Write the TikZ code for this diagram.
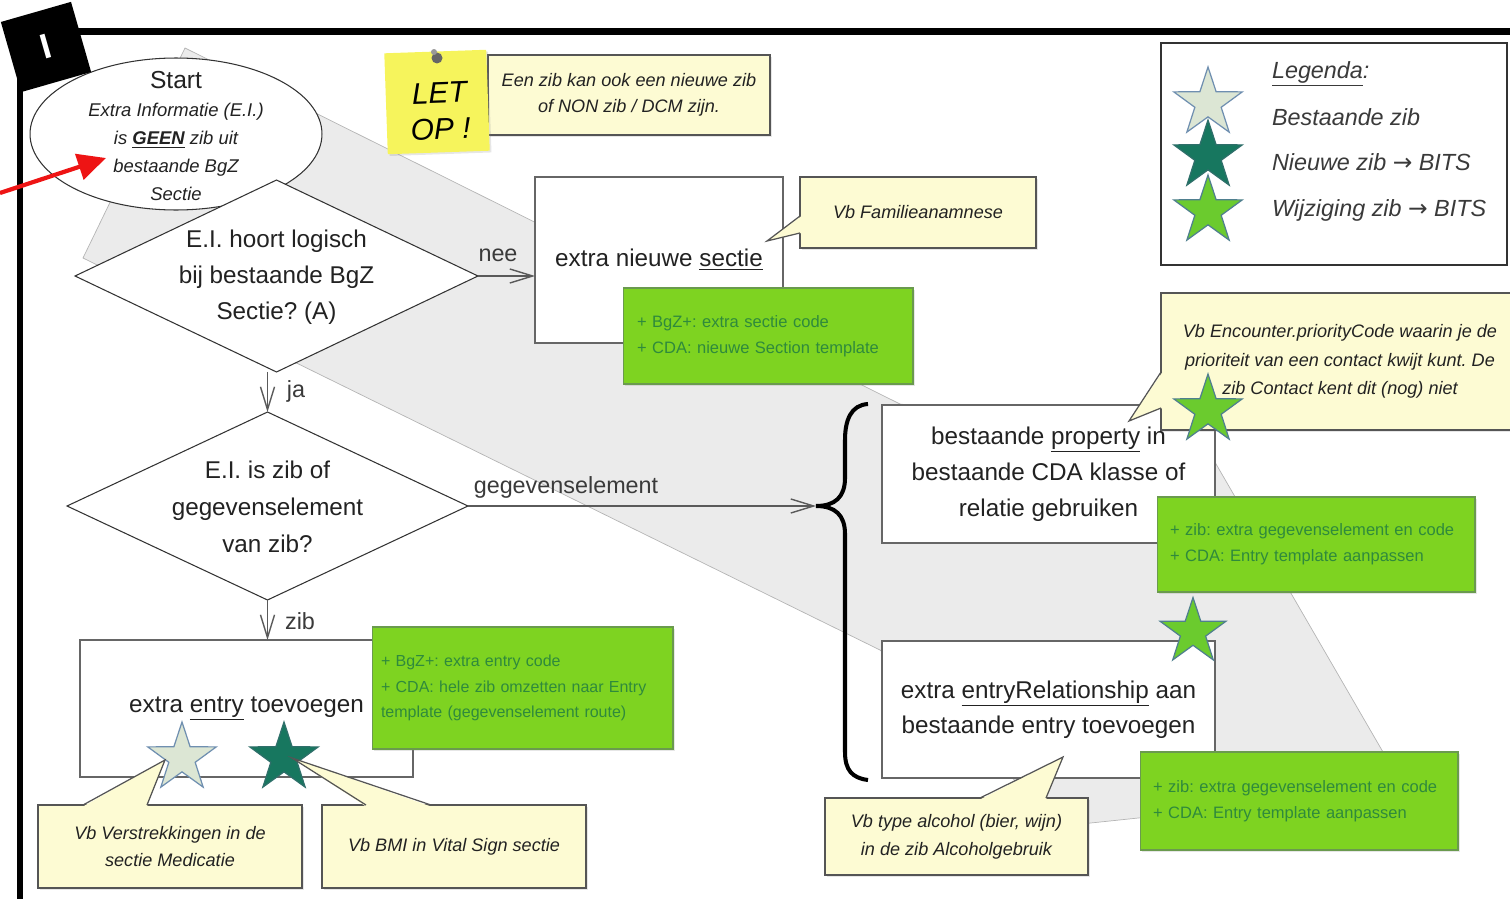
\documentclass[tikz,border=0pt]{standalone}
\usepackage{fontspec}
\setmainfont{Liberation Sans}
\newfontfamily\arrowfont{DejaVu Sans}
\usetikzlibrary{shapes.geometric,arrows.meta,shadows,calc}
\definecolor{band}{HTML}{EBEBEB}
\definecolor{bandline}{HTML}{B5B5B5}
\definecolor{limefill}{HTML}{7ED321}
\definecolor{limeline}{HTML}{6A9A4E}
\definecolor{limetext}{HTML}{2F8A3C}
\definecolor{note}{HTML}{FDFBD3}
\definecolor{noteline}{HTML}{555555}
\definecolor{sticky}{HTML}{F6F45C}
\definecolor{starlight}{HTML}{DCE6D4}
\definecolor{starlightline}{HTML}{6F8FB0}
\definecolor{stardark}{HTML}{17775F}
\definecolor{stardarkline}{HTML}{2F6F6A}
\definecolor{starlime}{HTML}{6BCB2E}
\definecolor{starlimeline}{HTML}{4F7F8F}
\definecolor{ink}{HTML}{222222}
\definecolor{boxline}{HTML}{666666}
\definecolor{diamline}{HTML}{333333}
\definecolor{connline}{HTML}{5A5A5A}
\definecolor{lbltext}{HTML}{3A3A3A}
\definecolor{redc}{HTML}{EE1414}
\frenchspacing
\hyphenpenalty=10000
\exhyphenpenalty=10000
\begin{document}
\begin{tikzpicture}[x=0.02cm, y=-0.02cm,
  every node/.style={inner sep=0pt, outer sep=0pt, text=ink},
  box/.style={draw=boxline, fill=white, line width=0.8pt, align=center, font=\fontsize{13.8}{20.4}\selectfont},
  greenbox/.style={draw=limeline, fill=limefill, line width=0.6pt, align=left, text=limetext,
    font=\fontsize{9.4}{14.6}\selectfont, drop shadow={opacity=0.2, shadow xshift=1.2pt, shadow yshift=-1.2pt}},
  callout/.style={draw=noteline, fill=note, line width=0.7pt, align=center,
    font=\itshape\fontsize{10.3}{15.4}\selectfont, drop shadow={opacity=0.2, shadow xshift=1.2pt, shadow yshift=-1.2pt}},
  decision/.style={diamond, draw=diamline, fill=white, line width=0.6pt, aspect=2.1},
  dtext/.style={align=center, font=\fontsize{13.8}{20.6}\selectfont},
  conn/.style={draw=connline, line width=0.7pt, -{Straight Barb[length=13pt,width=8pt,line width=0.8pt]}},
  lbl/.style={text=lbltext, font=\fontsize{13.3}{16}\selectfont},
  tailline/.style={draw=noteline, line width=0.7pt},
  starbase/.style={star, star points=5, star point ratio=2.6, minimum size=1.44cm, line width=0.7pt},
  starlightst/.style={starbase, fill=starlight, draw=starlightline},
  stardarkst/.style={starbase, fill=stardark, draw=stardarkline},
  starlimest/.style={starbase, fill=starlime, draw=starlimeline},
  legtxt/.style={anchor=base west, text=lbltext, font=\itshape\fontsize{13.3}{17}\selectfont},
  frameline/.style={draw=black, line width=4pt},
  redarrow/.style={draw=redc, line width=2.4pt, -{Triangle[length=16pt,width=15pt]}}
]
\useasboundingbox (0,0) rectangle (1510,899);

% grey background band
\filldraw[fill=band, draw=bandline, line width=0.4pt]
  (185,48) -- (900,404) -- (1205,445) -- (1405,790) -- (1062,826) -- (880,650) -- (83,258) -- cycle;

% start ellipse
\node[ellipse, draw=diamline, fill=white, line width=0.6pt, minimum width=5.84cm, minimum height=3.04cm] (start) at (176,134) {};
\node[align=center, font=\itshape\fontsize{10.5}{15.8}\selectfont] (starttext) at (176,136)
  {{\upshape\fontsize{14}{15.8}\selectfont Start}\\Extra Informatie (E.I.)\\is \underline{\textbf{GEEN}} zib uit\\bestaande BgZ\\Sectie};

% decisions
\node[decision, minimum width=8.06cm, minimum height=3.84cm] (d1) at (276.5,276) {};
\node[dtext] (d1text) at (276.5,277) {E.I. hoort logisch\\bij bestaande BgZ\\Sectie? (A)};
\node[decision, minimum width=8.02cm, minimum height=3.76cm] (d2) at (267.5,506) {};
\node[dtext, font=\fontsize{13.8}{21}\selectfont] (d2text) at (267.5,507) {E.I. is zib of\\gegevenselement\\van zib?};

% LET OP
\node[callout, minimum width=5.64cm, minimum height=1.6cm, font=\itshape\fontsize{10.3}{14.8}\selectfont] (letopnote) at (629,95)
  {Een zib kan ook een nieuwe zib\\of NON zib / DCM zijn.};
\node[fill=sticky, minimum width=2.04cm, minimum height=2.02cm, rotate=2,
  drop shadow={opacity=0.2, shadow xshift=1pt, shadow yshift=-1pt}] (sticky) at (437,102) {};
\node[rotate=2, align=center, font=\itshape\fontsize{17}{20.5}\selectfont, text=black] (stickytext) at (440,111) {LET\\OP !};
\node[circle, fill=black!60, minimum size=0.22cm] (pin) at (437,58) {};
\node[circle, fill=black!40, minimum size=0.12cm] (pinhead) at (434,52) {};

% extra nieuwe sectie
\node[box, minimum width=4.96cm, minimum height=3.32cm] (nieuw) at (659,260) {extra nieuwe \underline{sectie}};
\node[callout, minimum width=4.72cm, minimum height=1.42cm] (fam) at (918,212.5) {Vb Familieanamnese};
\coordinate (famb1) at (800,216); \coordinate (famb2) at (800,233); \coordinate (famtip) at (767,241);
\fill[note] ($(famb1)+(1.5,0)$) -- (famtip) -- ($(famb2)+(1.5,0)$) -- cycle;
\draw[tailline] (famb1) -- (famtip) -- (famb2);
\node[greenbox, minimum width=5.8cm, minimum height=1.92cm, text width=5.24cm, inner xsep=0.28cm] (gnieuw) at (768,336)
  {+ BgZ+: extra sectie code\\+ CDA: nieuwe Section template};

% legend
\node[draw=diamline, fill=white, line width=0.9pt, minimum width=6.92cm, minimum height=4.44cm] (legend) at (1334,154) {};
\node[starlightst] (lgs1) at (1208,103) {};
\node[stardarkst] (lgs2) at (1208,156) {};
\node[starlimest] (lgs3) at (1208,211) {};
\node[legtxt] (lg0) at (1272,78) {\underline{Legenda}:};
\node[legtxt] (lg1) at (1272,125) {Bestaande zib};
\node[legtxt] (lg2) at (1272,170) {Nieuwe zib {\arrowfont\itshape →} BITS};
\node[legtxt] (lg3) at (1272,216) {Wijziging zib {\arrowfont\itshape →} BITS};

% property box
\node[box, minimum width=6.66cm, minimum height=2.76cm, font=\fontsize{13.8}{20.6}\selectfont] (prop) at (1048.5,474)
  {bestaande \underline{property} in\\bestaande CDA klasse of\\relatie gebruiken};
\node[callout, minimum width=7.16cm, minimum height=2.74cm, font=\itshape\fontsize{10.3}{16.2}\selectfont] (enc) at (1340,361.5)
  {Vb Encounter.priorityCode waarin je de\\prioriteit van een contact kwijt kunt. De\\zib Contact kent dit (nog) niet};
\coordinate (encb1) at (1161,372); \coordinate (encb2) at (1161,408); \coordinate (enctip) at (1129,421);
\fill[note] ($(encb1)+(1.5,0)$) -- (enctip) -- ($(encb2)+(1.5,0)$) -- cycle;
\draw[tailline] (encb1) -- (enctip) -- (encb2);
\node[starlimest] (s4) at (1208,410) {};
\node[greenbox, minimum width=6.36cm, minimum height=1.9cm, text width=5.84cm, inner xsep=0.26cm] (gprop) at (1316,544.5)
  {+ zib: extra gegevenselement en code\\+ CDA: Entry template aanpassen};

% entryRelationship box
\node[box, minimum width=6.66cm, minimum height=2.74cm, font=\fontsize{13.8}{20}\selectfont] (rel) at (1048.5,709.5)
  {extra \underline{entryRelationship} aan\\bestaande entry toevoegen};
\node[starlimest, minimum size=1.38cm] (s5) at (1193,632) {};
\node[greenbox, minimum width=6.36cm, minimum height=1.96cm, text width=5.84cm, inner xsep=0.26cm] (grel) at (1299,801)
  {+ zib: extra gegevenselement en code\\+ CDA: Entry template aanpassen};
\node[callout, minimum width=5.26cm, minimum height=1.54cm, font=\itshape\fontsize{10.3}{16}\selectfont] (alc) at (956.5,836.5)
  {Vb type alcohol (bier, wijn)\\in de zib Alcoholgebruik};
\coordinate (alcb1) at (980,798); \coordinate (alcb2) at (1046,798); \coordinate (alctip) at (1063,757);
\fill[note] ($(alcb1)+(0,1.5)$) -- (alctip) -- ($(alcb2)+(0,1.5)$) -- cycle;
\draw[tailline] (alcb1) -- (alctip) -- (alcb2);

% brace
\coordinate (bracetip) at (816,506);
\draw[line width=2.3pt, black]
  (868,404) .. controls (851,405) and (845,420) .. (845,440) -- (845,478)
  .. controls (845,497) and (835,506) .. (bracetip)
  .. controls (835,506) and (845,515) .. (845,534) -- (845,752)
  .. controls (845,770) and (852,778) .. (868,780);

% extra entry box
\node[box, minimum width=6.66cm, minimum height=2.74cm] (entry) at (246.5,708.5) {extra \underline{entry} toevoegen};
\node[greenbox, minimum width=6.02cm, minimum height=2.44cm, text width=5.66cm, inner xsep=0.18cm, font=\fontsize{9.1}{14.4}\selectfont] (gentry) at (522.5,688)
  {+ BgZ+: extra entry code\\+ CDA: hele zib omzetten naar Entry\\template (gegevenselement route)};
\node[starlightst] (s1) at (182,758) {};
\node[stardarkst] (s2) at (284,758) {};
\node[callout, minimum width=5.28cm, minimum height=1.66cm, font=\itshape\fontsize{10.3}{15}\selectfont] (verstr) at (170,846.5)
  {Vb Verstrekkingen in de\\sectie Medicatie};
\coordinate (vb1) at (83,805); \coordinate (vb2) at (147,805); \coordinate (vtip) at (165,760);
\fill[note] ($(vb1)+(0,1.5)$) -- (vtip) -- ($(vb2)+(0,1.5)$) -- cycle;
\draw[tailline] (vb1) -- (vtip) -- (vb2);
\node[callout, minimum width=5.28cm, minimum height=1.66cm] (bmi) at (454,846.5) {Vb BMI in Vital Sign sectie};
\coordinate (bb1) at (366,805); \coordinate (bb2) at (431,805); \coordinate (btip) at (292,758);
\fill[note] ($(bb1)+(0,1.5)$) -- (btip) -- ($(bb2)+(0,1.5)$) -- cycle;
\draw[tailline] (bb1) -- (btip) -- (bb2);

% connectors
\draw[conn] (d1.east) -- (d1.east -| nieuw.west);
\node[lbl] (neelbl) at (498,255) {nee};
\draw[conn] (d2.north |- d1.south) -- (d2.north);
\node[lbl] (jalbl) at (296,391) {ja};
\draw[conn] (d2.east) -- (bracetip);
\node[lbl] (geglbl) at (566,487) {gegevenselement};
\draw[conn] (d2.south) -- (d2.south |- entry.north);
\node[lbl] (ziblbl) at (300,621) {zib};

% frame
\draw[frameline] (60,31.5) -- (1510,31.5);
\draw[frameline, line width=3.4pt] (20,60) -- (20,899);
\node[fill=black, minimum size=1.46cm, rotate=16, text=white, font=\bfseries\fontsize{20}{20}\selectfont] (tag) at (46,47) {I};

% red arrow
\coordinate (redfrom) at (0,193);
\coordinate (redto) at (106,158);
\draw[redarrow] (redfrom) -- (redto);
\end{tikzpicture}
\end{document}
